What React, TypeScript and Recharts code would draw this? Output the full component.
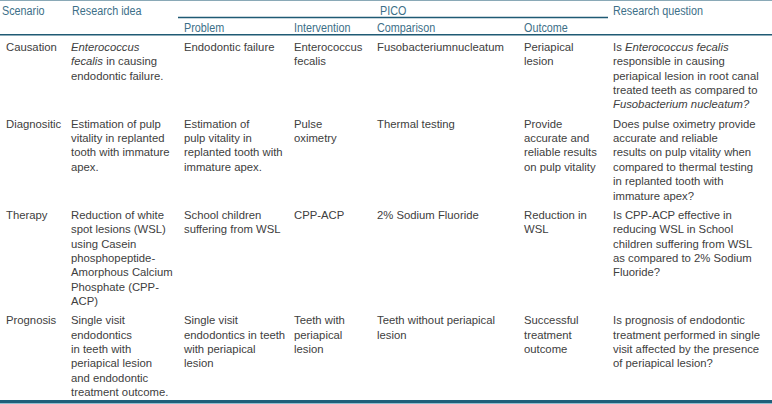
import React from "react";
import { Surface, Layer, Text } from "recharts";

// table content, one array per column; "_..._" marks italic text
const scenarios = ["Causation", "Diagnositic", "Therapy", "Prognosis"];

const researchIdeas = [
  ["_Enterococcus_", "_fecalis_ in causing", "endodontic failure."],
  ["Estimation of pulp", "vitality in replanted", "tooth with immature", "apex."],
  [
    "Reduction of white",
    "spot lesions (WSL)",
    "using Casein",
    "phosphopeptide-",
    "Amorphous Calcium",
    "Phosphate (CPP-",
    "ACP)",
  ],
  [
    "Single visit",
    "endodontics",
    "in teeth with",
    "periapical lesion",
    "and endodontic",
    "treatment outcome.",
  ],
];

const problems = [
  ["Endodontic failure"],
  ["Estimation of", "pulp vitality in", "replanted tooth with", "immature apex."],
  ["School children", "suffering from WSL"],
  ["Single visit", "endodontics in teeth", "with periapical", "lesion"],
];

const interventions = [
  ["Enterococcus", "fecalis"],
  ["Pulse", "oximetry"],
  ["CPP-ACP"],
  ["Teeth with", "periapical", "lesion"],
];

const comparisons = [
  ["Fusobacteriumnucleatum"],
  ["Thermal testing"],
  ["2% Sodium Fluoride"],
  ["Teeth without periapical", "lesion"],
];

const outcomes = [
  ["Periapical", "lesion"],
  ["Provide", "accurate and", "reliable results", "on pulp vitality"],
  ["Reduction in", "WSL"],
  ["Successful", "treatment", "outcome"],
];

const questions = [
  [
    "Is _Enterococcus fecalis_",
    "responsible in causing",
    "periapical lesion in root canal",
    "treated teeth as compared to",
    "_Fusobacterium nucleatum?_",
  ],
  [
    "Does pulse oximetry provide",
    "accurate and reliable",
    "results on pulp vitality when",
    "compared to thermal testing",
    "in replanted tooth with",
    "immature apex?",
  ],
  [
    "Is CPP-ACP effective in",
    "reducing WSL in School",
    "children suffering from WSL",
    "as compared to 2% Sodium",
    "Fluoride?",
  ],
  [
    "Is prognosis of endodontic",
    "treatment performed in single",
    "visit affected by the presence",
    "of periapical lesion?",
  ],
];

const topHeaders = ["Scenario", "Research idea", "PICO", "Research question"];
const picoHeaders = ["Problem", "Intervention", "Comparison", "Outcome"];

// layout
const W = 772;
const H = 404;
const colX = [6, 71, 184, 294, 377, 524, 613];
const topHeaderX = [2, 72, 380, 613];
const LINE_H = 14.35;
const FIRST_ROW = 47;
const ROW_GAP = 5;

const HEAD_COLOR = "#3d6f88";
const BODY_COLOR = "#404040";
const RULE_COLOR = "#1f5a74";
const bodyFont = "'Liberation Sans', Arial, sans-serif";

function segments(line: string) {
  return line.split("_").map((s, i) => (
    <tspan key={i} fontStyle={i % 2 === 1 ? "italic" : "normal"}>
      {s}
    </tspan>
  ));
}

// header font in the source is condensed, so squeeze it horizontally
function Head({ x, y, label }: { x: number; y: number; label: string }) {
  return (
    <Layer transform={`translate(${x},${y}) scale(0.8,1)`}>
      <Text x={0} y={0} fontSize={13.5} fontFamily={bodyFont} fill={HEAD_COLOR}>
        {label}
      </Text>
    </Layer>
  );
}

function Cell({ x, y, lines }: { x: number; y: number; lines: string[] }) {
  return (
    <Layer>
      {lines.map((ln, i) => (
        <text
          key={i}
          x={x}
          y={y + i * LINE_H + 4}
          fontSize={11.3}
          fontFamily={bodyFont}
          fill={BODY_COLOR}
        >
          {segments(ln)}
        </text>
      ))}
    </Layer>
  );
}

export default function App() {
  const columns = [
    scenarios.map((s) => [s]),
    researchIdeas,
    problems,
    interventions,
    comparisons,
    outcomes,
    questions,
  ];
  // each row starts below the tallest cell of the row above
  const rowY: number[] = [];
  let y = FIRST_ROW;
  scenarios.forEach((_, r) => {
    rowY.push(y);
    const maxLines = Math.max(...columns.map((c) => c[r].length));
    y += maxLines * LINE_H + ROW_GAP;
  });

  return (
    <div style={{ position: "absolute", left: 0, top: 0, width: W, height: H, background: "#fff" }}>
      <Surface width={W} height={H}>
        <line x1={0} x2={W} y1={0.5} y2={0.5} stroke="#8aa9b7" strokeWidth={1} />
        <line x1={178} x2={608} y1={17.5} y2={17.5} stroke={RULE_COLOR} strokeWidth={1.5} />
        <line x1={0} x2={W} y1={34.8} y2={34.8} stroke={RULE_COLOR} strokeWidth={1.5} />
        <line x1={0} x2={W} y1={401.5} y2={401.5} stroke="#1f5f7a" strokeWidth={3} />
        <line x1={0} x2={W} y1={403.5} y2={403.5} stroke="#8fbfd0" strokeWidth={1} />

        {topHeaders.map((h, i) => (
          <Head key={h} x={topHeaderX[i]} y={14.8} label={h} />
        ))}
        {picoHeaders.map((h, i) => (
          <Head key={h} x={colX[i + 2]} y={32} label={h} />
        ))}

        {columns.map((col, c) =>
          col.map((lines, r) => (
            <Cell key={`${c}-${r}`} x={colX[c]} y={rowY[r]} lines={lines} />
          ))
        )}
      </Surface>
    </div>
  );
}
